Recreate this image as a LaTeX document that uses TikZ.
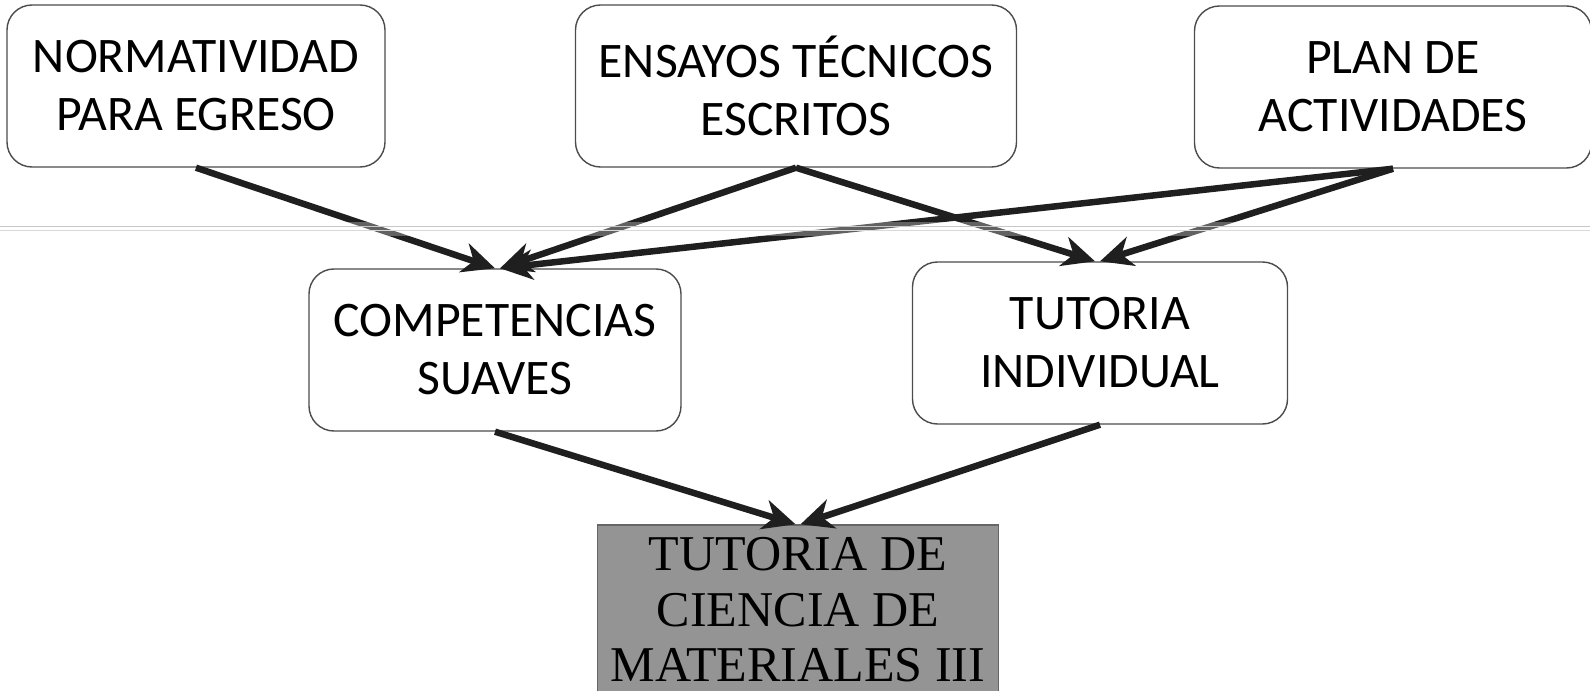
\documentclass[tikz,border=0pt]{standalone}
\usepackage{fontspec}
\setmainfont{Carlito}
\newfontfamily\serifbox{Liberation Serif}
\usepackage{tikz}
\usetikzlibrary{arrows.meta, positioning}

\begin{document}
\begin{tikzpicture}[x=0.2mm, y=-0.2mm,
        box/.style={draw=black!70, line width=0.8pt, rounded corners=5mm, align=center,
                inner sep=0pt, minimum height=32.4mm, font=\fontsize{28.3}{33}\selectfont},
        mainbox/.style={draw=black!60, fill=black!42, line width=0.8pt, align=center,
                inner sep=0pt, minimum width=80.2mm, minimum height=34mm,
                font=\serifbox\fontsize{28.5}{31.5}\selectfont},
        arr/.style={draw=black!88, line width=3.7pt, -{Stealth[length=6.5mm, width=6mm, inset=2mm]}}]
    \useasboundingbox (0,0) rectangle (1590,691);

    \node[box, minimum width=75.6mm] (norm) at (196,86) {NORMATIVIDAD\\PARA EGRESO};
    \node[box, minimum width=88.2mm] (ens) at (796,86) {ENSAYOS TÉCNICOS\\ESCRITOS};
    \node[box, minimum width=79.4mm] (plan) at (1393,87) {PLAN DE\\ACTIVIDADES};
    \node[box, minimum width=74.4mm] (comp) at (495,350) {COMPETENCIAS\\SUAVES};
    \node[box, minimum width=75mm] (tut) at (1100,343) {TUTORIA\\INDIVIDUAL};
    \node[mainbox] (mat) at (798,610) {TUTORIA DE\\CIENCIA DE\\MATERIALES III};

    \draw[arr] (norm.south) -- (comp.north);
    \draw[arr] (ens.south) -- ([xshift=1mm]comp.north);
    \draw[arr] (plan.south) -- ([xshift=1mm]comp.north);
    \draw[arr] (ens.south) -- ([xshift=-1mm]tut.north);
    \draw[arr] (plan.south) -- ([xshift=0mm]tut.north);
    \draw[arr] (comp.south) -- ([xshift=-0.5mm]mat.north);
    \draw[arr] (tut.south) -- ([xshift=0.5mm]mat.north);

    % fold of the scanned page
    \fill[white, opacity=0.3] (0,222) rectangle (1590,236);
    \draw[black!22, line width=0.9pt] (0,226.5) -- (1590,226.5);
    \draw[black!15, line width=0.9pt] (0,230.5) -- (1590,230.5);
\end{tikzpicture}
\end{document}
